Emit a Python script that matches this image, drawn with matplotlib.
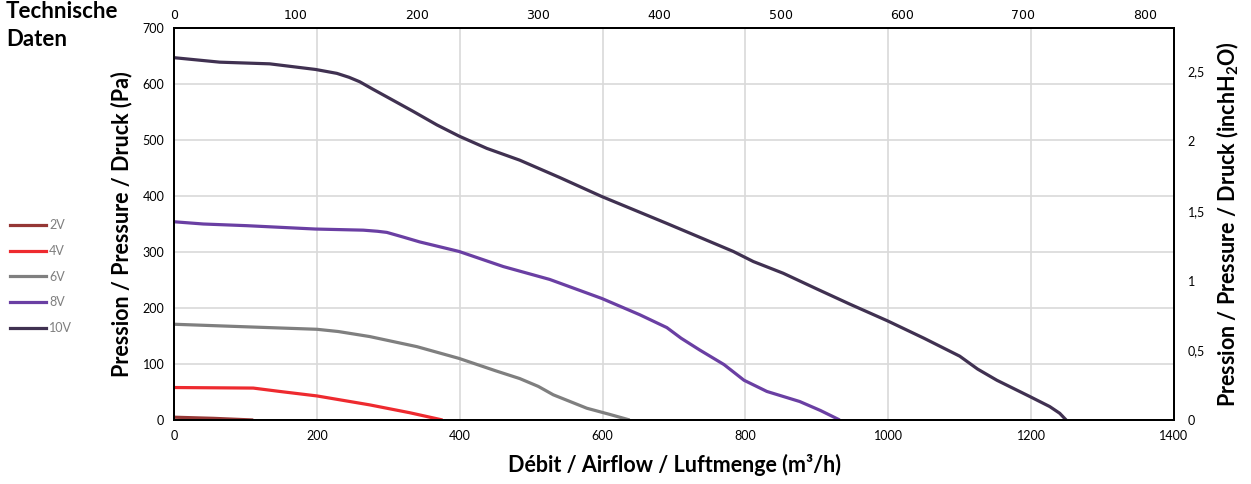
import matplotlib
matplotlib.use("Agg")
import matplotlib.pyplot as plt
from matplotlib.lines import Line2D

plt.rcParams["font.family"] = ["Lato", "DejaVu Sans"]
plt.rcParams["axes.unicode_minus"] = False

# ---- data ---------------------------------------------------------
q_2v = [0, 55, 111]
p_2v = [5, 3, 0]

q_4v = [0, 111, 148, 200, 274, 330, 376]
p_4v = [58, 57, 51, 43, 27, 13, 0]

q_6v = [0, 88, 200, 230, 274, 340, 399, 450, 484, 510, 531, 578, 610, 638]
p_6v = [171, 167, 162, 158, 149, 131, 110, 88, 74, 60, 45, 21, 10, 0]

q_8v = [0, 41, 102, 198, 265, 285, 298, 320, 344, 399, 461, 526, 599, 652,
        690, 710, 736, 770, 798, 830, 876, 905, 932]
p_8v = [354, 350, 347, 341, 339, 337, 335, 327, 318, 301, 274, 251, 217, 188,
        165, 146, 125, 99, 71, 51, 33, 17, 0]

q_10v = [0, 64, 134, 198, 228, 245, 260, 278, 298, 335, 368, 399, 438, 484,
         540, 599, 690, 783, 811, 853, 900, 946, 999, 1050, 1100, 1125, 1152,
         1198, 1226, 1240, 1249]
p_10v = [647, 639, 636, 626, 619, 612, 604, 591, 577, 551, 527, 507, 485, 464,
         433, 399, 351, 301, 283, 262, 234, 207, 177, 146, 114, 91, 71,
         42, 24, 12, 0]

series = [
    ("2V", q_2v, p_2v, "#953735"),
    ("4V", q_4v, p_4v, "#EE2A2F"),
    ("6V", q_6v, p_6v, "#7F7F7F"),
    ("8V", q_8v, p_8v, "#6A3FA3"),
    ("10V", q_10v, p_10v, "#403151"),
]

PA_PER_INH2O = 249.09
CFM_PER_M3H = 0.5886

fig = plt.figure(figsize=(12.51, 4.84), dpi=100)
ax = fig.add_axes([174 / 1251, 1 - 420 / 484, 1000 / 1251, 392 / 484])

for name, q, p, col in series:
    ax.plot(q, p, color=col, lw=2.3, solid_capstyle="butt",
            solid_joinstyle="round", zorder=3)

ax.set_xlim(0, 1400)
ax.set_ylim(0, 700)
ax.set_xticks(range(0, 1401, 200))
ax.set_yticks(range(0, 701, 100))
ax.grid(True, color="#D9D9D9", lw=1.2, zorder=0)
ax.tick_params(length=0, labelsize=9, colors="#000000", pad=7)
for s in ax.spines.values():
    s.set_color("black")
    s.set_linewidth(1.3)

lbl_font = dict(fontsize=15.5, fontweight="bold", color="black")
ax.set_xlabel("Débit / Airflow / Luftmenge (m³/h)", labelpad=9, **lbl_font)
ax.set_ylabel("Pression / Pressure / Druck (Pa)", labelpad=7, **lbl_font)

# top axis in CFM
axt = ax.twiny()
axt.set_xlim(0, 1400 * CFM_PER_M3H)
axt.set_xticks(range(0, 801, 100))
axt.tick_params(length=0, labelsize=9, pad=4)
for lab in axt.get_xticklabels():
    lab.set_family(["Liberation Sans Narrow", "DejaVu Sans"])

# right axis in inch H2O
axr = ax.twinx()
axr.set_ylim(0, 700 / PA_PER_INH2O)
rticks = [0, 0.5, 1, 1.5, 2, 2.5]
axr.set_yticks(rticks)
axr.set_yticklabels([("%g" % v).replace(".", ",") for v in rticks])
axr.tick_params(length=0, labelsize=9, pad=10)
axr.set_ylabel(r"Pression / Pressure / Druck (inchH$_\mathregular{2}$O)",
               labelpad=7, **lbl_font)
for a in (axt, axr):
    for s in a.spines.values():
        s.set_color("black")
        s.set_linewidth(1.3)

fig.text(6 / 1251, 1 - 1 / 484, "Technische\nDaten", ha="left", va="top",
         fontsize=16, fontweight="bold", linespacing=1.4)

handles = [Line2D([0], [0], color=c, lw=2.3) for _, _, _, c in series]
fig.legend(handles, [s[0] for s in series], loc="upper left",
           bbox_to_anchor=(-1 / 1251, 1 - 208 / 484), frameon=False,
           fontsize=9, labelcolor="#7F7F7F", handlelength=2.9,
           handletextpad=0.2, labelspacing=1.1)

fig.savefig("out.png", dpi=100)
